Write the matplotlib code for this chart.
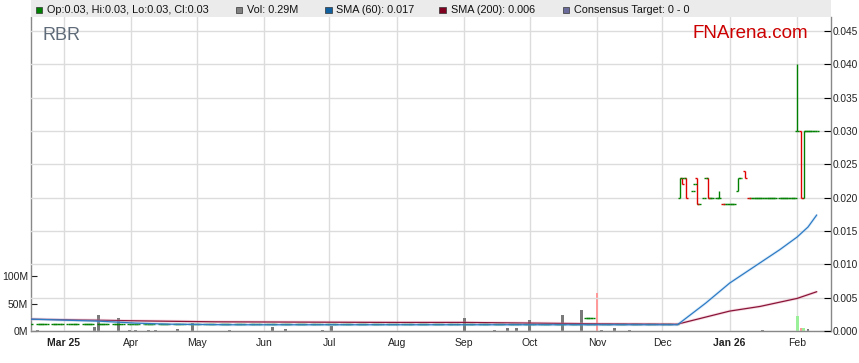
import numpy as np
import pandas as pd
import matplotlib
matplotlib.use("Agg")
import matplotlib.pyplot as plt
import matplotlib.dates as mdates
from matplotlib.patches import Rectangle

plt.rcParams['font.family'] = ['Liberation Sans', 'DejaVu Sans']

# --- data ---
# long flat stretch before the consolidation (price 0.001 every session)
flat_start = '2025-02-14'
flat_end = '2025-12-08'
flat_price = 0.001

# a few sessions at 0.002 late October
oct_dates = ['2025-10-27', '2025-10-28', '2025-10-29', '2025-10-30']
oct_price = 0.002

# OHLC after the consolidation
bar_dates = ['2025-12-09', '2025-12-10', '2025-12-11', '2025-12-12', '2025-12-15',
             '2025-12-16', '2025-12-17', '2025-12-18', '2025-12-20', '2025-12-21',
             '2025-12-22', '2025-12-23', '2025-12-24', '2025-12-26', '2025-12-27',
             '2025-12-29', '2025-12-30', '2025-12-31', '2026-01-01', '2026-01-02',
             '2026-01-03', '2026-01-05', '2026-01-06', '2026-01-08', '2026-01-10',
             '2026-01-11', '2026-01-12', '2026-01-13', '2026-01-14', '2026-01-15',
             '2026-01-16', '2026-01-17', '2026-01-18', '2026-01-19', '2026-01-20',
             '2026-01-21', '2026-01-22', '2026-01-24', '2026-01-25', '2026-01-26',
             '2026-01-27', '2026-01-28', '2026-01-29', '2026-01-30', '2026-01-31',
             '2026-02-01', '2026-02-03', '2026-02-04', '2026-02-05', '2026-02-06',
             '2026-02-07', '2026-02-08', '2026-02-09', '2026-02-10']
bar_open = [0.020, 0.023, 0.023, 0.023, 0.021, 0.022, 0.023, 0.019, 0.020, 0.023,
            0.023, 0.020, 0.020, 0.020, 0.020, 0.019, 0.019, 0.019, 0.019, 0.019,
            0.019, 0.021, 0.023, 0.024, 0.020, 0.020, 0.020, 0.020, 0.020, 0.020,
            0.020, 0.020, 0.020, 0.020, 0.020, 0.020, 0.020, 0.020, 0.020, 0.020,
            0.020, 0.020, 0.020, 0.020, 0.020, 0.030, 0.030, 0.020, 0.030, 0.030,
            0.030, 0.030, 0.030, 0.030]
bar_high = [0.023, 0.023, 0.023, 0.023, 0.021, 0.022, 0.023, 0.019, 0.020, 0.023,
            0.023, 0.020, 0.020, 0.020, 0.021, 0.019, 0.019, 0.019, 0.019, 0.019,
            0.019, 0.023, 0.023, 0.024, 0.020, 0.020, 0.020, 0.020, 0.020, 0.020,
            0.020, 0.020, 0.020, 0.020, 0.020, 0.020, 0.020, 0.020, 0.020, 0.020,
            0.020, 0.020, 0.020, 0.020, 0.020, 0.040, 0.030, 0.030, 0.030, 0.030,
            0.030, 0.030, 0.030, 0.030]
bar_low = [0.020, 0.022, 0.023, 0.020, 0.021, 0.022, 0.019, 0.019, 0.020, 0.023,
           0.020, 0.020, 0.020, 0.020, 0.020, 0.019, 0.019, 0.019, 0.019, 0.019,
           0.019, 0.021, 0.023, 0.023, 0.020, 0.020, 0.020, 0.020, 0.020, 0.020,
           0.020, 0.020, 0.020, 0.020, 0.020, 0.020, 0.020, 0.020, 0.020, 0.020,
           0.020, 0.020, 0.020, 0.020, 0.020, 0.030, 0.020, 0.020, 0.030, 0.030,
           0.030, 0.030, 0.030, 0.030]
bar_close = [0.023, 0.022, 0.023, 0.020, 0.021, 0.022, 0.019, 0.019, 0.020, 0.023,
             0.020, 0.020, 0.020, 0.020, 0.020, 0.019, 0.019, 0.019, 0.019, 0.019,
             0.019, 0.023, 0.023, 0.023, 0.020, 0.020, 0.020, 0.020, 0.020, 0.020,
             0.020, 0.020, 0.020, 0.020, 0.020, 0.020, 0.020, 0.020, 0.020, 0.020,
             0.020, 0.020, 0.020, 0.020, 0.020, 0.030, 0.020, 0.030, 0.030, 0.030,
             0.030, 0.030, 0.030, 0.030]

# moving averages (read as points along the lines)
sma60_dates = ['2025-02-14', '2025-03-17', '2025-04-03', '2025-04-18', '2025-05-15',
               '2025-12-08', '2025-12-21', '2026-01-01', '2026-01-24', '2026-02-01',
               '2026-02-06', '2026-02-10']
sma60_vals = [0.00179, 0.00149, 0.0012, 0.00104, 0.00095,
              0.00095, 0.0042, 0.0072, 0.0122, 0.0141, 0.0156, 0.0174]
sma200_dates = ['2025-02-14', '2025-04-03', '2025-05-10', '2025-08-01', '2025-09-01',
                '2025-11-01', '2025-12-08', '2026-01-01', '2026-01-15', '2026-02-01',
                '2026-02-10']
sma200_vals = [0.00179, 0.00154, 0.00139, 0.0013, 0.0013,
               0.0011, 0.00104, 0.0030, 0.0037, 0.0049, 0.0059]

# volume in millions; kind: 0 unchanged, -1 down, 1 up
vol_dates = ['2025-02-17', '2025-03-15', '2025-03-17', '2025-03-26', '2025-03-31',
             '2025-04-03', '2025-04-09', '2025-04-12', '2025-04-22', '2025-04-29',
             '2025-05-16', '2025-06-05', '2025-06-11', '2025-06-28', '2025-07-02',
             '2025-09-01', '2025-09-15', '2025-09-21', '2025-09-25', '2025-10-01',
             '2025-10-16', '2025-10-25', '2025-11-01', '2025-11-03', '2025-11-09',
             '2025-11-16', '2026-01-16', '2026-02-01', '2026-02-03', '2026-02-04',
             '2026-02-06']
vol_m = [2, 8, 30, 23, 1.5, 1.5, 1.5, 1.5, 3.6, 14,
         1.5, 7.7, 3.6, 1.5, 9.5, 24, 1.5, 5, 5, 21,
         28.6, 39, 70, 1.5, 5, 1.5, 1.5, 27, 5, 5,
         3.6]
vol_kind = [0, 0, 0, 0, 0, 0, 0, 0, 0, 0,
            0, 0, 0, 0, 0, 0, 0, 0, 0, 0,
            0, 0, -1, 0, 0, 0, 0, 1, -1, 1,
            0]

month_ticks = ['2025-03-01', '2025-04-01', '2025-05-01', '2025-06-01', '2025-07-01',
               '2025-08-01', '2025-09-01', '2025-10-01', '2025-11-01', '2025-12-01',
               '2026-01-01', '2026-02-01']
month_labels = ['Mar 25', 'Apr', 'May', 'Jun', 'Jul', 'Aug', 'Sep', 'Oct', 'Nov', 'Dec',
                'Jan 26', 'Feb']

GREEN = '#008000'
RED = '#e00000'
BLUE = '#2e7bc4'
MAROON = '#8a1538'
W, H = 859, 363


def px(x, y):
    # pixel (from top-left) -> figure fraction
    return x / W, 1 - y / H


def draw_ohlc(ax, dates, o, h, l, c, w=0.9):
    x = mdates.date2num(pd.to_datetime(dates))
    o, h, l, c = map(np.asarray, (o, h, l, c))
    cols = []
    prev = o[0]
    for oi, ci in zip(o, c):
        if ci > oi:
            cols.append(GREEN)
        elif ci < oi:
            cols.append(RED)
        else:
            cols.append(RED if ci < prev else GREEN)
        prev = ci
    ax.vlines(x, l, h, colors=cols, lw=1.0)
    ax.hlines(o, x - w, x, colors=cols, lw=1.0)
    ax.hlines(c, x, x + w, colors=cols, lw=1.0)


fig = plt.figure(figsize=(W / 100, H / 100), dpi=100)
left, right, top, bottom = 30.7, 831.0, 16.7, 331.1
ax_v = fig.add_axes([left / W, (H - bottom) / H, (right - left) / W, (bottom - top) / H])
ax = ax_v.twinx()

# volume
vcols = {0: '#7a7a7a', -1: '#ff9a9a', 1: '#99f099'}
ax_v.bar(pd.to_datetime(vol_dates), vol_m, width=1.3, linewidth=0,
         color=[vcols[k] for k in vol_kind], zorder=2)
ax_v.set_ylim(0, 570.6)
ax_v.set_yticks([0, 50, 100])
ax_v.set_yticklabels(['0M', '50M', '100M'])

# price
flat_d = pd.bdate_range(flat_start, flat_end)
n = len(flat_d)
draw_ohlc(ax, flat_d, [flat_price] * n, [flat_price] * n, [flat_price] * n, [flat_price] * n)
k = len(oct_dates)
draw_ohlc(ax, oct_dates, [oct_price] * k, [oct_price] * k, [oct_price] * k, [oct_price] * k)

for dts, vals, col, glow in [(sma200_dates, sma200_vals, MAROON, '#e690ad'),
                             (sma60_dates, sma60_vals, BLUE, '#9ccbf2')]:
    d = pd.to_datetime(dts)
    ax.plot(d, vals, color=glow, lw=2.2, alpha=0.3, solid_capstyle='butt')
    ax.plot(d, vals, color=col, lw=0.9)

draw_ohlc(ax, bar_dates, bar_open, bar_high, bar_low, bar_close)

ax.set_ylim(0, 0.04714)
ax.set_yticks(np.arange(0, 0.0451, 0.005))
ax.set_yticklabels(['%.3f' % v for v in np.arange(0, 0.0451, 0.005)])
ax.grid(axis='y', color='#dcdcdc', lw=1.0, zorder=0)

ax_v.set_xlim(mdates.date2num(pd.Timestamp('2025-02-13 17:00')),
              mdates.date2num(pd.Timestamp('2026-02-16 14:00')))
ax_v.set_xticks(pd.to_datetime(month_ticks))
ax_v.set_xticklabels(month_labels)
for t in ax_v.get_xticklabels():
    if ' ' in t.get_text():
        t.set_fontweight('bold')
ax_v.grid(axis='x', color='#dcdcdc', lw=1.0, zorder=0)
ax_v.set_axisbelow(True)

for a in (ax, ax_v):
    for s in a.spines.values():
        s.set_color('#888888')
        s.set_linewidth(1.0)
    a.spines['top'].set_visible(False)
ax.spines['left'].set_visible(False)
ax.spines['bottom'].set_visible(False)
ax_v.spines['right'].set_visible(False)

ax_v.tick_params(axis='x', length=0, pad=5, labelsize=7.5, colors='#222222')
ax_v.tick_params(axis='y', direction='in', length=4, pad=2, labelsize=7.5,
                 colors='#222222')
ax.tick_params(axis='y', direction='in', length=5, pad=1.2, labelsize=7.3,
               colors='black', labelcolor='#222222')

# legend strip on top
leg = fig.add_axes([left / W, (H - top) / H, (right - left) / W, top / H])
leg.set_xlim(left, right)
leg.set_ylim(top, 0)
leg.set_facecolor('#ebebeb')
for s in leg.spines.values():
    s.set_visible(False)
leg.set_xticks([])
leg.set_yticks([])
items = [(35.7, GREEN, 'Op:0.03, Hi:0.03, Lo:0.03, Cl:0.03'),
         (235.7, '#808080', 'Vol: 0.29M'),
         (325.0, '#1060a0', 'SMA (60): 0.017'),
         (439.3, '#800020', 'SMA (200): 0.006'),
         (562.7, '#6b6b9b', 'Consensus Target: 0 - 0')]
for x0, col, label in items:
    leg.add_patch(Rectangle((x0, 6.7), 6.6, 6.6, facecolor=col, edgecolor='#333333', lw=0.5))
    leg.text(x0 + 11.3, 10.2, label, va='center', ha='left', fontsize=7.8, color='#111111')

fig.text(*px(42, 35), 'RBR', fontsize=13, color='#5f6b78', va='center', ha='left')
fig.text(*px(693, 34), 'FNArena.com', fontsize=13.5, color='#cc0000', va='center', ha='left')

fig.savefig('out.png', dpi=100)
